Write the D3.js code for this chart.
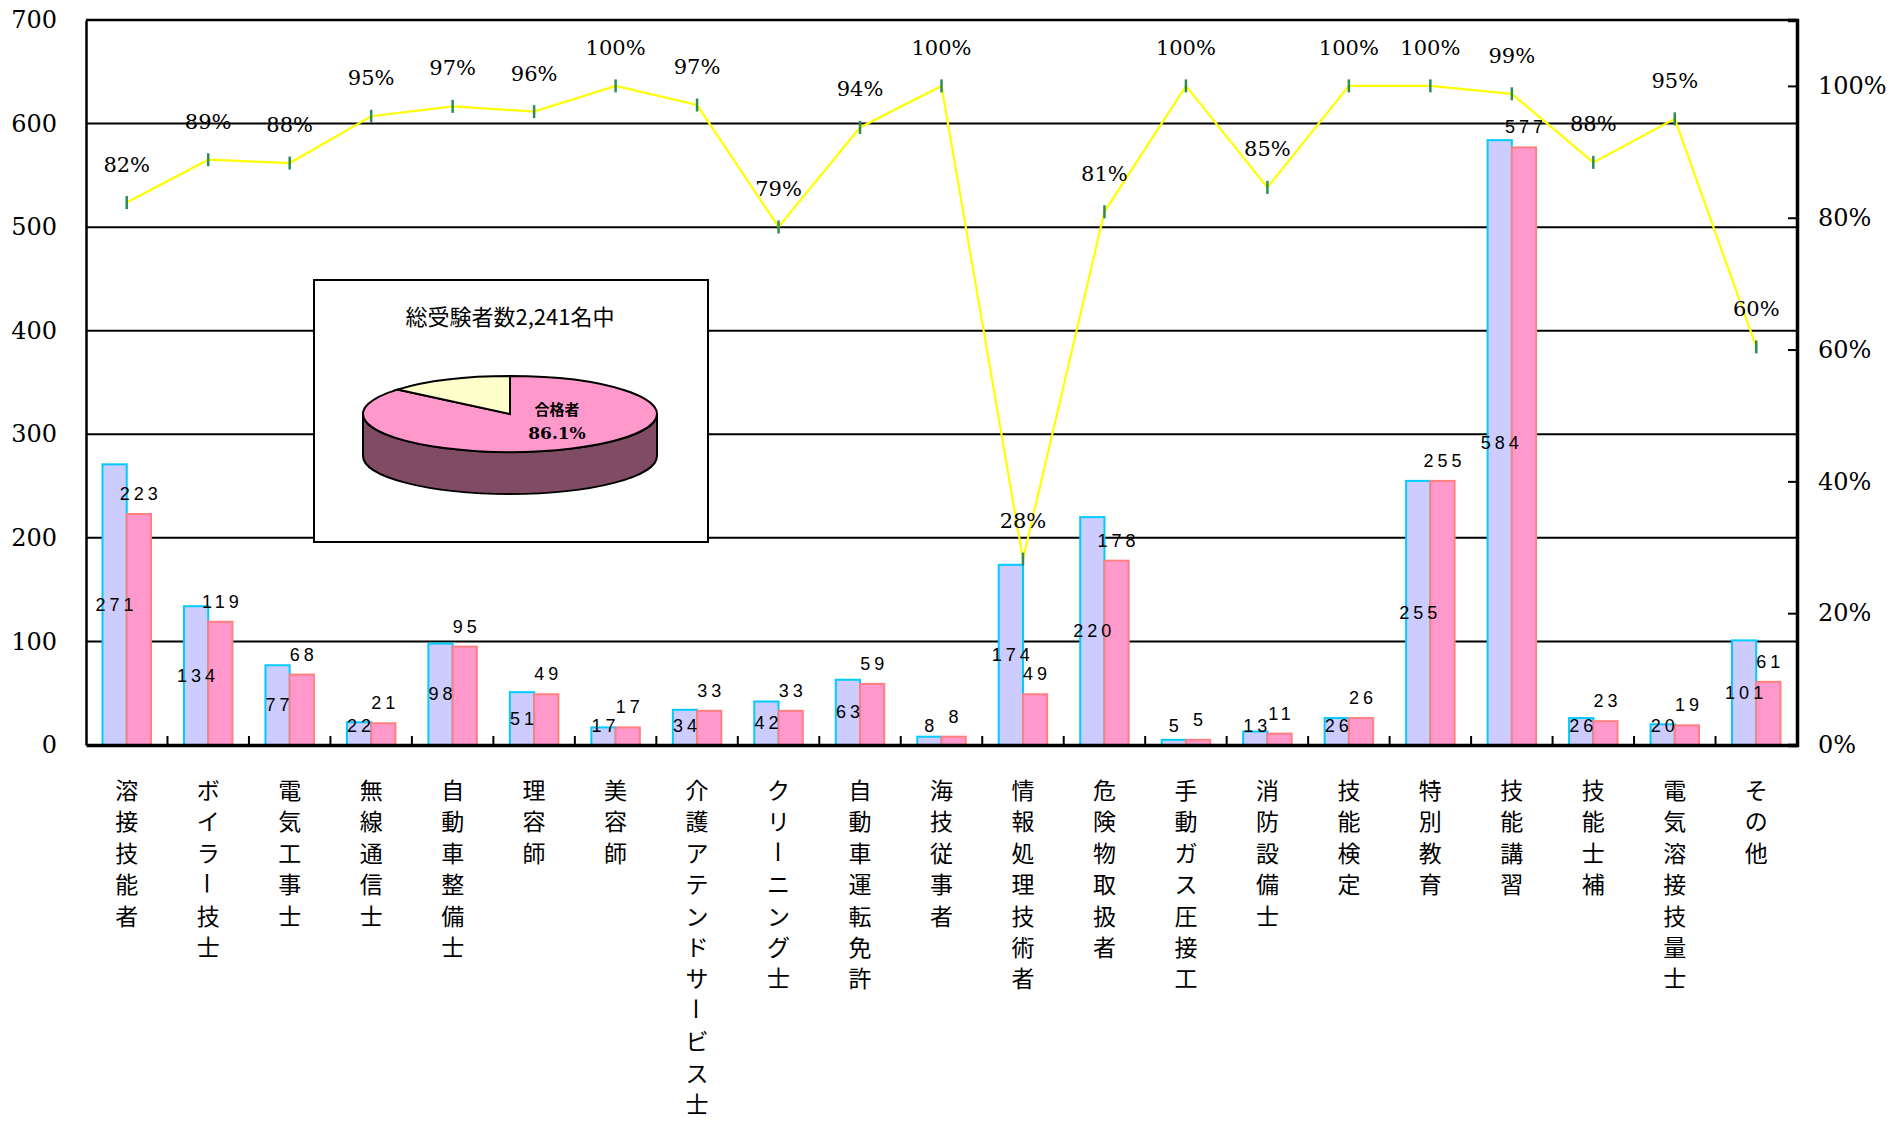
<!DOCTYPE html>
<html><head><meta charset="utf-8">
<script src="https://cdn.jsdelivr.net/npm/d3@7"></script>
<style>body{margin:0;background:#fff;} svg{display:block;}</style>
</head><body>
<svg id="c" width="1901" height="1121"></svg>
<script>
const categories = ["溶接技能者","ボイラー技士","電気工事士","無線通信士","自動車整備士","理容師","美容師","介護アテンドサービス士","クリーニング士","自動車運転免許","海技従事者","情報処理技術者","危険物取扱者","手動ガス圧接工","消防設備士","技能検定","特別教育","技能講習","技能士補","電気溶接技量士","その他"];
const examinees = [271,134,77,22,98,51,17,34,42,63,8,174,220,5,13,26,255,584,26,20,101];
const passed    = [223,119,68,21,95,49,17,33,33,59,8,49,178,5,11,26,255,577,23,19,61];
const passRate  = [82.3,88.8,88.3,95.4,96.9,96.1,100,97.1,78.6,93.7,100,28.2,80.9,100,84.6,100,100,98.8,88.4,95.0,60.4];
const leftTicks = [0,100,200,300,400,500,600,700];
const rightTicks = [0,20,40,60,80,100];
const pieTitle = "総受験者数2,241名中";
const pieLabel = "合格者";
const pieShares = [86.1, 13.9];

const svg = d3.select("#c");
const L = 86, R = 1797, T = 20, B = 745;

const x = d3.scaleBand().domain(categories).range([L, R]).paddingInner(0).paddingOuter(0);
const xs = d3.scaleBand().domain(["e","p"]).range([0, x.bandwidth()]).paddingInner(0).paddingOuter(0.68);
const y = d3.scaleLinear().domain([0,700]).range([B, T]);
const y2 = d3.scaleLinear().domain([0,110]).range([B, T]);

const serif = "'DejaVu Serif', serif";
const sans = "'Liberation Sans', Arial, sans-serif";
const jp = "'Noto Sans CJK JP', sans-serif";

// gridlines
svg.append("g").selectAll("line").data(leftTicks.filter(d => d > 0 && d < 700)).join("line")
  .attr("x1", L).attr("x2", R).attr("y1", d => y(d)).attr("y2", d => y(d))
  .attr("stroke", "#000").attr("stroke-width", 2);

// bars
const rows = categories.map((c, i) => ({c, e: examinees[i], p: passed[i], r: passRate[i]}));
const g = svg.append("g");
g.selectAll("rect.e").data(rows).join("rect").attr("class","e")
  .attr("x", d => x(d.c) + xs("e")).attr("width", xs.bandwidth())
  .attr("y", d => y(d.e)).attr("height", d => B - y(d.e))
  .attr("fill", "#ccccff").attr("stroke", "#00ccff").attr("stroke-width", 2);
g.selectAll("rect.p").data(rows).join("rect").attr("class","p")
  .attr("x", d => x(d.c) + xs("p")).attr("width", xs.bandwidth())
  .attr("y", d => y(d.p)).attr("height", d => B - y(d.p))
  .attr("fill", "#ff99cc").attr("stroke", "#ff8080").attr("stroke-width", 2);

// frame
svg.append("line").attr("x1", L).attr("x2", R).attr("y1", T).attr("y2", T).attr("stroke","#000").attr("stroke-width",2.5);

// left axis
const ax = svg.append("g").attr("transform", `translate(${L},0)`)
  .call(d3.axisLeft(y).tickValues(leftTicks).tickSize(0).tickPadding(29));
ax.select(".domain").attr("stroke","#000").attr("stroke-width",2.5);
ax.selectAll("text").attr("font-family", serif).attr("font-size", 24).attr("fill","#000");

// right axis
const ay = svg.append("g").attr("transform", `translate(${R},0)`)
  .call(d3.axisRight(y2).tickValues(rightTicks).tickSize(-9).tickPadding(21).tickFormat(d => d + "%"));
ay.select(".domain").attr("stroke","#000").attr("stroke-width",3.5);
ay.selectAll("line").attr("stroke","#000").attr("stroke-width",2);
ay.selectAll("text").attr("font-family", serif).attr("font-size", 24).attr("fill","#000");

// bottom axis
const bx = svg.append("g").attr("transform", `translate(0,${B})`)
  .call(d3.axisBottom(x).tickSize(0).tickFormat(""));
bx.select(".domain").attr("stroke","#000").attr("stroke-width",3.5);
svg.append("g").selectAll("line").data(categories.slice(1)).join("line")
  .attr("x1", d => x(d)).attr("x2", d => x(d)).attr("y1", B).attr("y2", B - 9)
  .attr("stroke","#000").attr("stroke-width",2);

// value labels
const fmtN = d3.format("d");
function spaced(sel){ return sel.attr("font-family", sans).attr("font-size", 18).attr("letter-spacing", "4px")
  .attr("text-anchor","middle").attr("dominant-baseline","central").attr("dx", 2).attr("fill","#000"); }
spaced(svg.append("g").selectAll("text").data(rows).join("text")
  .attr("x", d => x(d.c) + xs("e") + xs.bandwidth()/2)
  .attr("y", d => Math.min((y(d.e) + B)/2, 726))
  .text(d => fmtN(d.e)));
spaced(svg.append("g").selectAll("text").data(rows).join("text")
  .attr("x", d => x(d.c) + xs("p") + xs.bandwidth()/2)
  .attr("y", d => y(d.p) - 20)
  .text(d => fmtN(d.p)));

// rate line
const cx = d => x(d.c) + x.bandwidth()/2;
svg.append("path").datum(rows)
  .attr("d", d3.line().x(cx).y(d => y2(d.r)))
  .attr("fill","none").attr("stroke","#ffff00").attr("stroke-width",2.2);
svg.append("g").selectAll("line").data(rows).join("line")
  .attr("x1", cx).attr("x2", cx).attr("y1", d => y2(d.r) - 6.5).attr("y2", d => y2(d.r) + 6.5)
  .attr("stroke","#2e8b57").attr("stroke-width",2.5);
svg.append("g").selectAll("text").data(rows).join("text")
  .attr("x", cx).attr("y", d => y2(d.r) - 38)
  .attr("text-anchor","middle").attr("dominant-baseline","central")
  .attr("font-family", serif).attr("font-size", 21).attr("fill","#000")
  .text(d => d3.format(".0f")(d.r) + "%");

// category labels (vertical)
const cg = svg.append("g");
rows.forEach(d => {
  Array.from(d.c).forEach((ch, i) => {
    const px = cx(d), py = 789 + i * 31.4;
    const t = cg.append("text").attr("x", px).attr("y", py)
      .attr("text-anchor","middle").attr("dominant-baseline","central")
      .attr("font-family", jp).attr("font-size", 23).attr("fill","#000").text(ch);
    if (ch === "ー") t.attr("transform", `rotate(90,${px},${py})`);
  });
});

// pie inset
const box = {x: 314, y: 280, w: 394, h: 262};
svg.append("rect").attr("x", box.x).attr("y", box.y).attr("width", box.w).attr("height", box.h)
  .attr("fill","#fff").attr("stroke","#000").attr("stroke-width",2);
svg.append("text").attr("x", 510).attr("y", 315).attr("text-anchor","middle").attr("dominant-baseline","central")
  .attr("font-family", jp).attr("font-size", 22).attr("fill","#000").text(pieTitle);

const pcx = 510, pcy = 414, rx = 147, ry = 38, depth = 42;
svg.append("path")
  .attr("d", `M${pcx-rx},${pcy} L${pcx-rx},${pcy+depth} A${rx},${ry} 0 0 0 ${pcx+rx},${pcy+depth} L${pcx+rx},${pcy} A${rx},${ry} 0 0 1 ${pcx-rx},${pcy} Z`)
  .attr("fill","#7f4c64").attr("stroke","#000").attr("stroke-width",2);
const pie = d3.pie().sort(null)(pieShares);
const arc = d3.arc().innerRadius(0).outerRadius(rx);
const pieColors = ["#ff99cc", "#ffffcc"];
svg.append("g").attr("transform", `translate(${pcx},${pcy}) scale(1,${ry/rx})`)
  .selectAll("path").data(pie).join("path")
  .attr("d", arc).attr("fill", (d,i) => pieColors[i])
  .attr("stroke","#000").attr("stroke-width",2).attr("vector-effect","non-scaling-stroke");
svg.append("text").attr("x", 557).attr("y", 408).attr("text-anchor","middle").attr("dominant-baseline","central")
  .attr("font-family", jp).attr("font-weight","bold").attr("font-size", 15).attr("fill","#000").text(pieLabel);
svg.append("text").attr("x", 557).attr("y", 433).attr("text-anchor","middle").attr("dominant-baseline","central")
  .attr("font-family", serif).attr("font-weight","bold").attr("font-size", 17).attr("fill","#000").text(pieShares[0] + "%");
</script>
</body></html>
